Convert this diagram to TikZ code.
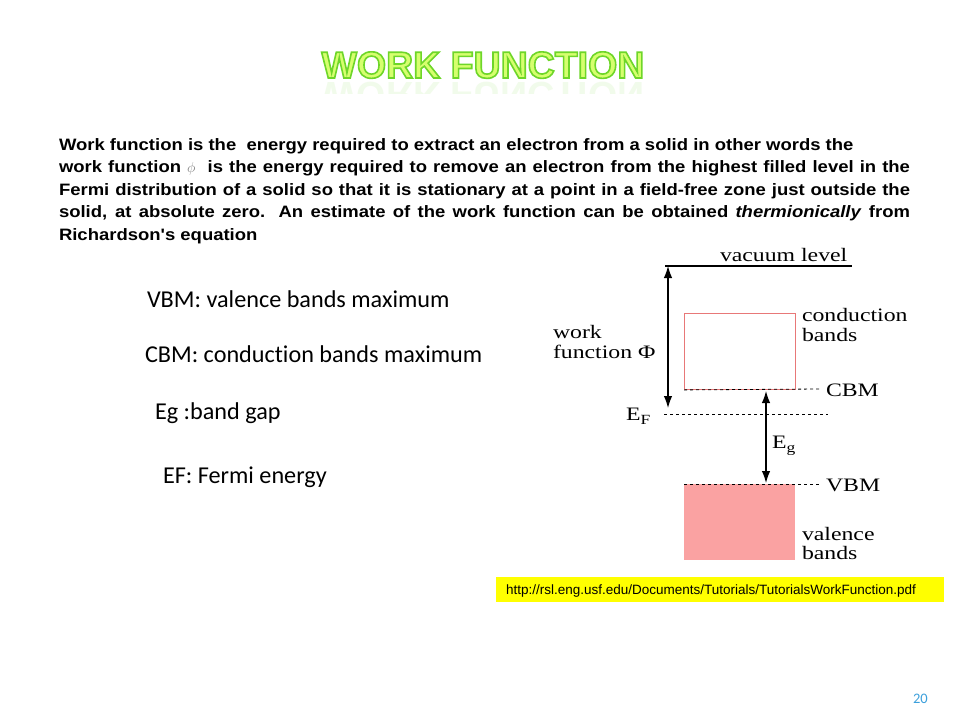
\documentclass[tikz,border=0pt]{standalone}
\usepackage{fontspec}
\usetikzlibrary{arrows.meta}
\setmainfont{Liberation Sans}
\newfontfamily\bodyfont[FakeStretch=1.12]{Liberation Sans}
\newfontfamily\diagfont[FakeStretch=1.25]{Liberation Serif}
\newfontfamily\listfont[Ligatures=NoCommon]{Carlito}
\newfontfamily\titlefont{Liberation Sans}
\definecolor{titlefill}{RGB}{214,255,110}
\definecolor{titleline}{RGB}{110,215,40}
\definecolor{cbline}{RGB}{232,120,120}
\definecolor{vbfill}{RGB}{250,162,162}
\definecolor{urlyellow}{RGB}{255,255,0}
\definecolor{pagenum}{RGB}{60,160,220}
\newcommand{\outlinedtext}[1]{\textcolor{titlefill}{\special{pdf:literal q 2 Tr 1.6 w 0.43 0.84 0.16 RG}#1\special{pdf:literal Q}}}
\tikzset{
  lbl/.style={anchor=base west, inner sep=0pt, outer sep=0pt},
  bodytxt/.style={lbl, font=\bodyfont\bfseries\fontsize{16.5}{22.5}\selectfont},
  listtxt/.style={lbl, font=\listfont\fontsize{24.2}{28}\selectfont},
  diagtxt/.style={lbl, font=\diagfont\fontsize{19}{20}\selectfont},
  dblarrow/.style={{Latex[length=12pt,width=8.5pt]}-{Latex[length=12pt,width=8.5pt]}, line width=1.2pt},
  dashline/.style={line width=0.8pt, dash pattern=on 3pt off 3pt},
  cbbox/.style={draw=cbline, line width=0.9pt, inner sep=0pt, minimum width=111pt, minimum height=76pt, anchor=north west},
  vbbox/.style={fill=vbfill, inner sep=0pt, minimum width=111pt, minimum height=76pt, anchor=north west}
}
\newcommand{\subtxt}[1]{\raisebox{-4pt}{\fontsize{14}{14}\selectfont #1}}
\begin{document}
\begin{tikzpicture}[x=1pt,y=-1pt]
\useasboundingbox (0,0) rectangle (960,720);
\fill[white] (0,0) rectangle (960,720);

% title and reflection
\node[anchor=base, inner sep=0pt, font=\titlefont\bfseries\fontsize{37.5}{40}\selectfont] (title) at (483,78)
  {\outlinedtext{WORK FUNCTION}};
\begin{scope}
\clip (300,81) rectangle (670,93);
\node[anchor=base, inner sep=0pt, yscale=-1, transform shape, opacity=0.09, text=titleline,
  font=\titlefont\bfseries\fontsize{37.5}{40}\selectfont] (titlerefl) at (483,82) {WORK FUNCTION};
\end{scope}

% body text
\node[bodytxt] (b1) at (59,150) {Work function is the\ \ energy required to extract an electron from a solid in other words the};
\node[bodytxt] (b2) at (59,172) {\makebox[851pt][s]{work function {\color{gray}\fontsize{14}{14}\selectfont$\phi$}\ \ is the energy required to remove an electron from the highest filled level in the}};
\node[bodytxt] (b3) at (59,195) {\makebox[851pt][s]{Fermi distribution of a solid so that it is stationary at a point in a field-free zone just outside the}};
\node[bodytxt] (b4) at (59,217) {\makebox[851pt][s]{solid, at absolute zero. An estimate of the work function can be obtained \textit{thermionically} from}};
\node[bodytxt] (b5) at (59,240) {Richardson's equation};

% list
\node[listtxt] (l1) at (147,307) {VBM: valence bands maximum};
\node[listtxt] (l2) at (145,362) {CBM: conduction bands maximum};
\node[listtxt] (l3) at (155,419) {Eg :band gap};
\node[listtxt] (l4) at (163,483) {EF: Fermi energy};

% diagram
\coordinate (vacL) at (665,266);
\coordinate (vacR) at (852,266);
\draw[line width=1.1pt] (vacL) -- (vacR);
\node[diagtxt] (vaclbl) at (720,261) {vacuum level};

\node[cbbox] (cb) at (684,313) {};
\node[vbbox] (vb) at (684,484) {};

\coordinate (cbmEnd) at (820,389);
\coordinate (vbmEnd) at (820,484);
\coordinate (efL) at (664,414);
\coordinate (efR) at (828,414);
\draw[dashline] (cb.south west) -- (cbmEnd);
\draw[dashline] (vb.north west) -- (vbmEnd);
\draw[dashline] (efL) -- (efR);

\coordinate (wfTop) at (668,266);
\coordinate (wfBot) at (668,408);
\draw[dblarrow] (wfTop) -- (wfBot);
\coordinate (egTop) at (766,391);
\coordinate (egBot) at (766,483);
\draw[dblarrow] (egTop) -- (egBot);

\node[diagtxt] (cbml) at (826,396) {CBM};
\node[diagtxt] (vbml) at (826,491) {VBM};
\node[diagtxt] (efl) at (626,420) {E\subtxt{F}};
\node[diagtxt] (egl) at (772,448) {E\subtxt{g}};
\node[diagtxt] (cbl1) at (802,321) {conduction};
\node[diagtxt] (cbl2) at (802,341) {bands};
\node[diagtxt] (vbl1) at (802,540) {valence};
\node[diagtxt] (vbl2) at (802,559) {bands};
\node[diagtxt] (wfl1) at (553,338) {work};
\node[diagtxt] (wfl2) at (553,358) {function Φ};

% url box
\node[fill=urlyellow, inner sep=0pt, minimum width=448pt, minimum height=25pt, anchor=north west] (urlbox) at (496,577) {};
\node[lbl, font=\fontsize{13.5}{15}\selectfont] (url) at (506,594) {http://rsl.eng.usf.edu/Documents/Tutorials/TutorialsWorkFunction.pdf};

% page number
\node[lbl, text=pagenum, font=\listfont\fontsize{14.5}{16}\selectfont] (pg) at (913,703) {20};
\end{tikzpicture}
\end{document}
